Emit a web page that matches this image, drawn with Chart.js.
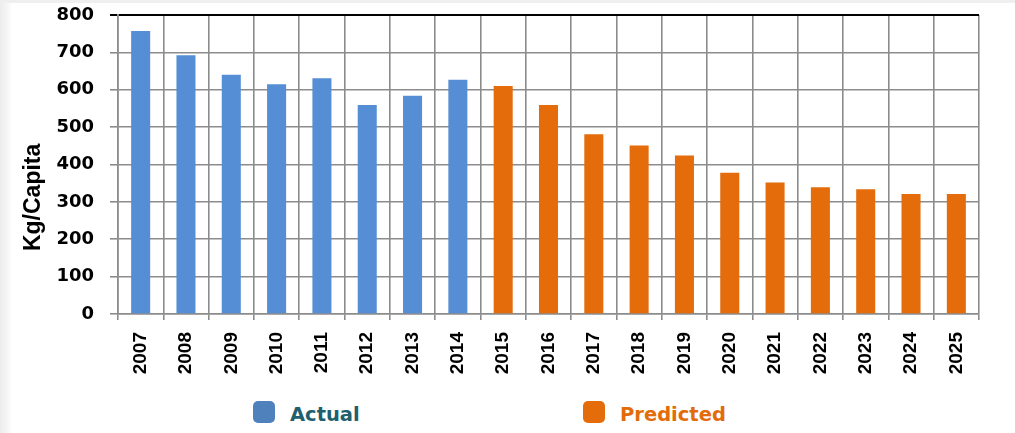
<!DOCTYPE html>
<html>
<head>
<meta charset="utf-8">
<script src="https://cdn.jsdelivr.net/npm/chart.js@4.4.1/dist/chart.umd.min.js"></script>
<style>
  html, body { margin: 0; padding: 0; background: #fff; }
  #page { width: 1015px; height: 433px; position: relative; overflow: hidden;
    background: linear-gradient(to right, #ececec 0px, #f6f6f6 8px, #fff 12px); }
  #page::before { content: ""; position: absolute; left: 0; top: 0; width: 1015px; height: 3px; background: #efefef; }
  #wrap { position: absolute; left: 0; top: 0; width: 1015px; height: 384px; }
  #legend { position: absolute; top: 400px; left: 0; width: 1015px; height: 28px;
    font-family: "DejaVu Sans"; font-weight: bold; font-size: 19.5px; }
  .item { position: absolute; top: 0; display: flex; align-items: center; }
  .box { width: 22px; height: 22px; border-radius: 5px; margin-right: 15px; }
  .item span { position: relative; top: 3px; }
</style>
</head>
<body>
<div id="page">
  <div id="wrap"><canvas id="waste"></canvas></div>
  <div id="legend"></div>
</div>
<script>
const years = ["2007", "2008", "2009", "2010", "2011", "2012", "2013", "2014", "2015", "2016",
    "2017", "2018", "2019", "2020", "2021", "2022", "2023", "2024", "2025"];
const actual = [757, 692, 640, 615, 631, 559, 584, 627, null, null,
    null, null, null, null, null, null, null, null, null];
const predicted = [null, null, null, null, null, null, null, null, 610, 559,
    481, 451, 424, 378, 352, 339, 334, 321, 321];
const yTicks = [0, 100, 200, 300, 400, 500, 600, 700, 800];
const yTitle = "Kg/Capita";

// legend look: box colour, text colour, left position
const legendStyle = {
    "Actual": { box: "#4f81bd", text: "#215f6e", left: 253 },
    "Predicted": { box: "#e46c0a", text: "#e36c0a", left: 583 },
};

// y title sits a bit below the middle of the axis in the original
const yTitlePlugin = {
    id: "yTitle",
    afterDraw(chart) {
        const { ctx, chartArea } = chart;
        ctx.save();
        ctx.translate(34, chartArea.top + (chartArea.bottom - chartArea.top) * 0.61);
        ctx.rotate(-Math.PI / 2);
        ctx.textAlign = "center";
        ctx.textBaseline = "middle";
        ctx.fillStyle = "#000";
        ctx.font = "bold 23px 'Liberation Sans'";
        ctx.fillText(yTitle, 0, 0);
        ctx.restore();
    },
};

const chart = new Chart(document.getElementById("waste"), {
    type: "bar",
    data: {
        labels: years,
        datasets: [
            {
                label: "Actual",
                data: actual,
                backgroundColor: "#558ed5",
                borderColor: "#558ed5",
            },
            {
                label: "Predicted",
                data: predicted,
                backgroundColor: "#e46c0a",
                borderColor: "#e46c0a",
            },
        ],
    },
    plugins: [yTitlePlugin],
    options: {
        responsive: true,
        maintainAspectRatio: false,
        animation: false,
        barPercentage: 0.42,
        categoryPercentage: 1,
        layout: {
            padding: { top: 15, right: 36, left: 21, bottom: 0 },
        },
        scales: {
            x: {
                stacked: true,
                afterFit: (scale) => {
                    // fix plot bottom at y=314
                    scale.height = 70;
                    scale.paddingLeft = 0;
                    scale.paddingRight = 0;
                },
                grid: {
                    color: (ctx) => (ctx.index === years.length ? "#000" : "#8c8c8c"),
                    lineWidth: 1.6,
                    tickLength: 6,
                },
                border: { color: "#8c8c8c", width: 1.6 },
                ticks: {
                    color: "#000",
                    maxRotation: 90,
                    minRotation: 90,
                    padding: 12,
                    font: { family: "Liberation Sans", size: 19, weight: "bold" },
                },
            },
            y: {
                min: 0,
                max: 800,
                afterBuildTicks: (axis) => {
                    axis.ticks = yTicks.map((v) => ({ value: v }));
                },
                afterFit: (scale) => {
                    // fix y axis line at x=118
                    scale.width = 97;
                    scale.paddingTop = 0;
                    scale.paddingBottom = 0;
                },
                grid: {
                    color: (ctx) => (ctx.tick && ctx.tick.value === 800 ? "#000" : "#8c8c8c"),
                    lineWidth: (ctx) => (ctx.tick && ctx.tick.value === 800 ? 2 : 1.6),
                    tickLength: 8,
                },
                border: { color: "#8c8c8c", width: 1.6 },
                ticks: {
                    color: "#000",
                    autoSkip: false,
                    padding: 16,
                    font: { family: "DejaVu Sans", size: 18, weight: "bold" },
                },
            },
        },
        plugins: {
            tooltip: { enabled: false },
            legend: { display: false },
        },
    },
});

// html legend built from the datasets
const legendEl = document.getElementById("legend");
chart.data.datasets.forEach((ds) => {
    const st = legendStyle[ds.label];
    const item = document.createElement("div");
    item.className = "item";
    item.style.left = st.left + "px";
    const box = document.createElement("div");
    box.className = "box";
    box.style.background = st.box;
    const txt = document.createElement("span");
    txt.textContent = ds.label;
    txt.style.color = st.text;
    item.appendChild(box);
    item.appendChild(txt);
    legendEl.appendChild(item);
});
</script>
</body>
</html>
